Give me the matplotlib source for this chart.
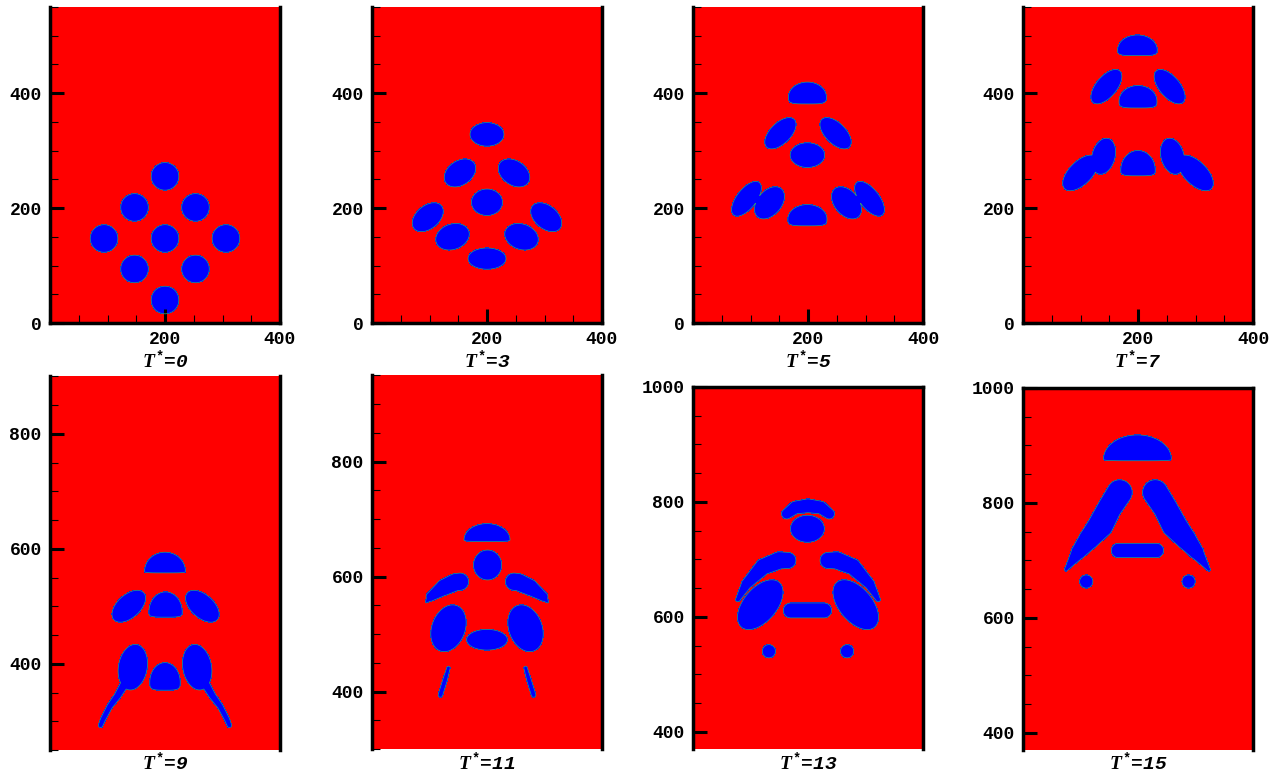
import matplotlib.pyplot as plt
import numpy as np
from matplotlib.ticker import MultipleLocator

plt.rcParams['mathtext.fontset'] = 'custom'
plt.rcParams['mathtext.it'] = 'Liberation Serif:italic:bold'
plt.rcParams['mathtext.rm'] = 'Liberation Mono:bold'

# droplet shapes, in lattice units
# ellipse: (cx, cy, width, height, angle)
# dome:    (cx, cy, half width, top height, bottom height)
# tube:    list of (x, y, radius) along a centre line

labels = ['0', '3', '5', '7', '9', '11', '13', '15']

t0_ellipses = [(200, 255, 48, 48, 0), (147, 201, 48, 48, 0), (253, 201, 48, 48, 0),
               (94, 147, 48, 48, 0), (200, 147, 48, 48, 0), (306, 147, 48, 48, 0),
               (147, 94, 48, 48, 0), (253, 94, 48, 48, 0), (200, 40, 48, 48, 0)]
t0_domes = []
t0_tubes = []

t3_ellipses = [(200, 328, 59, 41, 0), (153, 261, 60, 42, 35), (247, 261, 60, 42, -35),
               (200, 210, 54, 46, 0), (97, 184, 62, 40, 40), (303, 184, 62, 40, -40),
               (140, 150, 60, 44, 20), (260, 150, 60, 44, -20), (200, 112, 66, 37, 0)]
t3_domes = []
t3_tubes = []

t5_ellipses = [(152, 330, 68, 36, 45), (248, 330, 68, 36, -45), (199, 292, 60, 43, 0),
               (93, 216, 72, 34, 52), (307, 216, 72, 34, -52),
               (133, 209, 64, 42, 50), (267, 209, 64, 42, -50)]
t5_domes = [(199, 393, 33, 26, 12), (199, 181, 34, 25, 12)]
t5_tubes = []

t7_ellipses = [(145, 411, 72, 36, 50), (255, 411, 72, 36, -50),
               (140, 290, 64, 40, 75), (100, 261, 78, 40, 45),
               (260, 290, 64, 40, -75), (300, 261, 78, 40, -45)]
t7_domes = [(199, 475, 34.5, 26, 10), (200, 386, 33, 27, 12), (200, 266, 30, 34, 10)]
t7_tubes = []

t9_ellipses = [(137, 500, 70, 40, 42), (265, 500, 70, 40, -42),
               (144, 394, 80, 50, 80), (256, 394, 80, 50, -80)]
t9_domes = [(200, 561, 35.5, 33, 3), (201, 490, 29, 35, 9), (200, 368, 26.5, 34, 14)]
t9_tubes = [[(128, 362, 7), (118, 345, 6), (104, 326, 5), (92, 303, 4.5), (88, 293, 4)],
            [(272, 362, 7), (282, 345, 6), (296, 326, 5), (308, 303, 4.5), (312, 293, 4)]]

t11_ellipses = [(201, 620, 49, 52, 0), (133, 510, 84, 58, 70), (267, 510, 84, 58, -70),
                (200, 490, 71, 36, 0)]
t11_domes = [(200, 664, 40, 28, 3)]
t11_tubes = [[(95, 556, 2), (102, 565, 8), (125, 581, 14), (145, 590, 15), (153, 591, 15)],
             [(305, 556, 2), (298, 565, 8), (275, 581, 14), (255, 590, 15), (247, 591, 15)],
             [(133, 441, 3), (127, 420, 4), (119, 394, 4)],
             [(267, 441, 3), (273, 420, 4), (281, 394, 4)]]

t13_ellipses = [(199, 753, 59, 47, 0), (117, 621, 102, 58, 50), (283, 621, 102, 58, -50),
                (132, 540, 23, 23, 0), (268, 540, 23, 23, 0)]
t13_domes = []
t13_tubes = [[(163, 779, 9), (178, 790, 11), (200, 793, 12), (222, 790, 11), (237, 779, 9)],
             [(78, 630, 4), (93, 657, 9), (122, 687, 14), (150, 698, 15), (165, 698, 14)],
             [(322, 630, 4), (307, 657, 9), (278, 687, 14), (250, 698, 15), (235, 698, 14)],
             [(170, 611, 13), (228, 611, 13)]]

t15_ellipses = [(110, 663, 23, 23, 0), (288, 663, 23, 23, 0)]
t15_domes = [(199, 876, 59, 42, 3)]
t15_tubes = [[(166, 717, 12.5), (232, 717, 12.5)],
             [(168, 818, 22), (150, 790, 21), (135, 761, 22), (115, 737, 18),
              (97, 715, 13), (82, 694, 6), (75, 684, 3)],
             [(230, 818, 22), (248, 790, 21), (263, 761, 22), (283, 737, 18),
              (301, 715, 13), (316, 694, 6), (323, 684, 3)]]

all_ellipses = [t0_ellipses, t3_ellipses, t5_ellipses, t7_ellipses,
                t9_ellipses, t11_ellipses, t13_ellipses, t15_ellipses]
all_domes = [t0_domes, t3_domes, t5_domes, t7_domes,
             t9_domes, t11_domes, t13_domes, t15_domes]
all_tubes = [t0_tubes, t3_tubes, t5_tubes, t7_tubes,
             t9_tubes, t11_tubes, t13_tubes, t15_tubes]

y_ranges = [(0, 550)] * 4 + [(250, 900), (300, 950), (370, 1000), (370, 1000)]
y_ticks = [[0, 200, 400]] * 4 + [[400, 600, 800]] * 2 + [[400, 600, 800, 1000]] * 2
x_ticks = [0, 200, 400]
x_ticklabels = ['', '200', '400']


def ellipse_field(X, Y, cx, cy, w, h, ang):
    t = np.deg2rad(ang)
    dx, dy = X - cx, Y - cy
    u = dx * np.cos(t) + dy * np.sin(t)
    v = -dx * np.sin(t) + dy * np.cos(t)
    return 1 - np.sqrt((u / (w / 2)) ** 2 + (v / (h / 2)) ** 2)


def dome_field(X, Y, cx, cy, a, btop, bbot):
    u = (X - cx) / a
    v = Y - cy
    top = 1 - np.sqrt(u ** 2 + (v / btop) ** 2)
    bot = 1 - (np.abs(u) ** 4 + np.abs(v / bbot) ** 4) ** 0.25
    return np.where(v >= 0, top, bot)


def tube_field(X, Y, pts):
    f = np.full(X.shape, -1e3)
    for (x0, y0, r0), (x1, y1, r1) in zip(pts[:-1], pts[1:]):
        dx, dy = x1 - x0, y1 - y0
        t = np.clip(((X - x0) * dx + (Y - y0) * dy) / (dx * dx + dy * dy), 0, 1)
        d = np.hypot(X - (x0 + t * dx), Y - (y0 + t * dy))
        r = r0 + (r1 - r0) * t
        f = np.maximum(f, 1 - d / r)
    return f


W, H = 1282, 776
scale = 0.575  # pixels per lattice unit
lefts = [50, 372, 693, 1023] * 2
bottoms = [323, 323, 323, 323, 750, 749, 749, 750]

fig = plt.figure(figsize=(W / 100, H / 100), dpi=100)

for i in range(8):
    y0, y1 = y_ranges[i]
    wpx = 400 * scale
    hpx = (y1 - y0) * scale
    ax = fig.add_axes([lefts[i] / W, 1 - bottoms[i] / H, wpx / W, hpx / H])

    xs = np.linspace(0, 400, 801)
    ys = np.arange(y0, y1 + 0.5, 0.5)
    X, Y = np.meshgrid(xs, ys)
    F = np.full(X.shape, -1e3)
    for e in all_ellipses[i]:
        F = np.maximum(F, ellipse_field(X, Y, *e))
    for d in all_domes[i]:
        F = np.maximum(F, dome_field(X, Y, *d))
    for tb in all_tubes[i]:
        F = np.maximum(F, tube_field(X, Y, tb))

    ax.contourf(X, Y, F, levels=[-1e4, 0, 1e4], colors=['#ff0000', '#0000ff'])
    ax.contour(X, Y, F, levels=[0], colors='#2fa070', linewidths=0.5)

    ax.set_xlim(0, 400)
    ax.set_ylim(y0, y1)

    ax.set_yticks(y_ticks[i])
    ax.yaxis.set_minor_locator(MultipleLocator(50))
    ax.set_xticks(x_ticks)
    ax.set_xticklabels(x_ticklabels)
    ax.xaxis.set_minor_locator(MultipleLocator(50))

    ax.tick_params(which='major', direction='in', length=10, width=2.2, pad=6,
                   labelsize=13, top=False, right=False)
    ax.tick_params(which='minor', direction='in', length=5.5, width=0.8,
                   top=False, right=False)
    for lab in ax.get_xticklabels() + ax.get_yticklabels():
        lab.set_fontfamily('Liberation Mono')
        lab.set_fontweight('bold')

    for side in ['left', 'right', 'bottom', 'top']:
        ax.spines[side].set_linewidth(2.5)
    ax.spines['top'].set_visible(i >= 6)
    if i >= 4:
        ax.spines['bottom'].set_visible(False)
        ax.tick_params(axis='x', which='both', bottom=False, labelbottom=False)

    title_y = 361 if i < 4 else 763
    fig.text((lefts[i] + wpx / 2) / W, 1 - title_y / H, r'$T^{*}$=' + labels[i],
             ha='center', va='center', fontsize=14, fontfamily='Liberation Mono',
             fontweight='bold', fontstyle='italic')

fig.savefig('out.png', dpi=100)
